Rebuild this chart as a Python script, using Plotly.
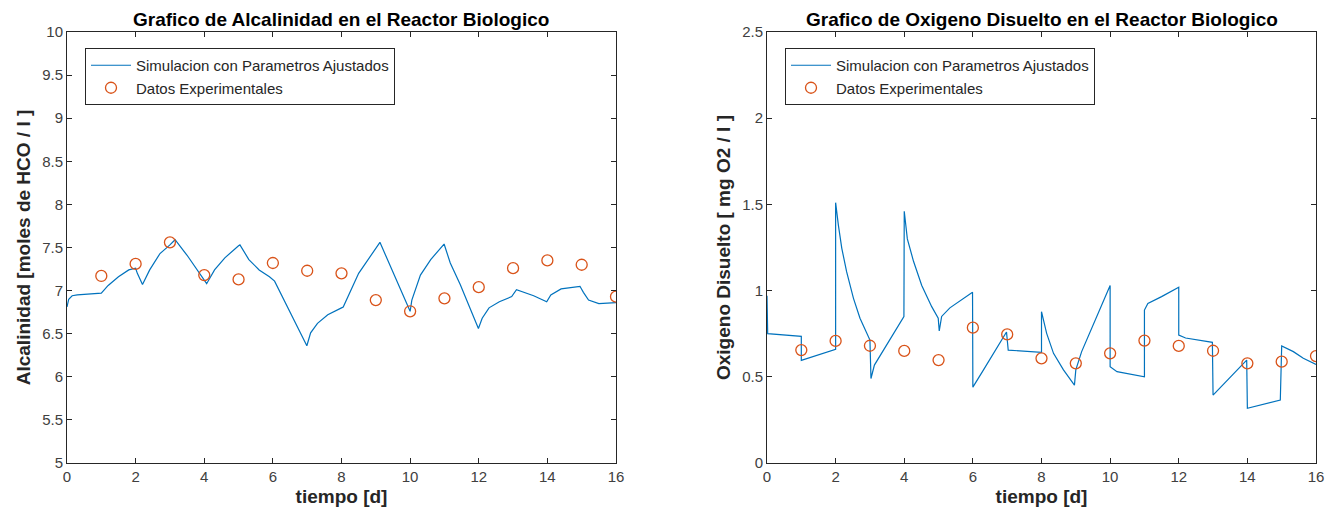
import plotly.graph_objects as go

# ---- Alkalinity (left) ----
alk_sim_t = [0, 0.05, 0.15, 0.3, 0.6, 1.0, 1.2, 1.5, 1.8, 2.0, 2.05, 2.2, 2.41, 2.71, 3.0, 3.15,
             3.5, 4.0, 4.07, 4.3, 4.6, 5.0, 5.04, 5.3, 5.6, 5.9, 6.05, 6.99, 7.1, 7.3, 7.6, 8.0,
             8.05, 8.5, 8.98, 9.12, 10.0, 10.05, 10.3, 10.6, 10.99, 11.17, 11.46, 11.75, 11.99,
             12.1, 12.3, 12.6, 12.96, 13.1, 13.3, 13.6, 13.98, 14.1, 14.4, 14.95, 15.05, 15.2,
             15.5, 16.0]
alk_sim_v = [6.81, 6.90, 6.94, 6.95, 6.96, 6.97, 7.06, 7.16, 7.24, 7.26, 7.20, 7.07, 7.24, 7.43,
             7.53, 7.59, 7.41, 7.12, 7.08, 7.24, 7.38, 7.52, 7.53, 7.36, 7.24, 7.16, 7.11, 6.36,
             6.51, 6.62, 6.72, 6.80, 6.81, 7.20, 7.47, 7.56, 6.76, 6.89, 7.18, 7.36, 7.54, 7.32,
             7.07, 6.80, 6.56, 6.68, 6.80, 6.87, 6.93, 7.01, 6.98, 6.94, 6.87, 6.95, 7.02, 7.05,
             6.98, 6.89, 6.85, 6.86]
alk_exp_t = list(range(1, 17))
alk_exp_v = [7.17, 7.31, 7.56, 7.18, 7.13, 7.32, 7.23, 7.20, 6.89, 6.76, 6.91, 7.04, 7.26, 7.35,
             7.30, 6.93]

# ---- Dissolved oxygen (right) ----
o2_sim_t = [0, 0.0, 0.02, 1.0, 1.0, 2.0, 2.0, 2.08, 2.18, 2.32, 2.52, 2.71, 3.0, 3.03, 3.13,
            3.99, 4.0, 4.09, 4.27, 4.51, 4.80, 4.99, 5.02, 5.09, 5.33, 5.99, 6.0, 6.31, 6.60,
            6.98, 7.03, 8.0, 8.0, 8.15, 8.35, 8.64, 8.96, 9.0, 9.17, 10.0, 10.0, 10.2, 11.0, 11.0,
            11.1, 11.5, 12.0, 12.0, 12.2, 12.98, 13.0, 13.98, 14.0, 14.96, 15.0, 15.34, 15.63,
            16.0]
o2_sim_v = [0.97, 0.90, 0.75, 0.735, 0.595, 0.66, 1.51, 1.38, 1.245, 1.11, 0.955, 0.84, 0.713,
            0.49, 0.568, 0.849, 1.46, 1.30, 1.17, 1.03, 0.907, 0.84, 0.766, 0.85, 0.90, 0.99,
            0.44, 0.54, 0.636, 0.76, 0.655, 0.642, 0.878, 0.752, 0.636, 0.54, 0.452, 0.54, 0.646,
            1.03, 0.559, 0.53, 0.50, 0.887, 0.926, 0.965, 1.02, 0.742, 0.725, 0.70, 0.394, 0.597,
            0.317, 0.365, 0.679, 0.646, 0.607, 0.572]
o2_exp_t = list(range(1, 17))
o2_exp_v = [0.655, 0.708, 0.68, 0.65, 0.597, 0.785, 0.746, 0.607, 0.578, 0.636, 0.71, 0.679,
            0.651, 0.578, 0.588, 0.62]

x_ticks = [0, 2, 4, 6, 8, 10, 12, 14, 16]
alk_ticks = [5, 5.5, 6, 6.5, 7, 7.5, 8, 8.5, 9, 9.5, 10]
o2_ticks = [0, 0.5, 1, 1.5, 2, 2.5]

sim_name = "Simulacion con Parametros Ajustados"
exp_name = "Datos Experimentales"
BLUE = "#0072BD"
ORANGE = "#D95319"
AX = "#262626"
FONT = "Liberation Sans, Arial, sans-serif"

fig = go.Figure()
fig.add_trace(go.Scatter(x=alk_sim_t, y=alk_sim_v, mode="lines", name=sim_name,
                         line=dict(color=BLUE, width=1.2), xaxis="x", yaxis="y", legend="legend"))
fig.add_trace(go.Scatter(x=alk_exp_t, y=alk_exp_v, mode="markers", name=exp_name,
                         marker=dict(symbol="circle-open", size=11, color=ORANGE, line=dict(width=1.3)),
                         xaxis="x", yaxis="y", legend="legend"))
fig.add_trace(go.Scatter(x=o2_sim_t, y=o2_sim_v, mode="lines", name=sim_name,
                         line=dict(color=BLUE, width=1.2), xaxis="x2", yaxis="y2", legend="legend2"))
fig.add_trace(go.Scatter(x=o2_exp_t, y=o2_exp_v, mode="markers", name=exp_name,
                         marker=dict(symbol="circle-open", size=11, color=ORANGE, line=dict(width=1.3)),
                         xaxis="x2", yaxis="y2", legend="legend2"))

W, H = 1336, 520
OFF = 8  # page body margin
def px_x(p): return (p - OFF) / W
def px_y(p): return 1 - (p - OFF) / H

common_x = dict(range=[0, 16], tickvals=x_ticks, ticks="inside", ticklen=5, tickcolor=AX,
                showline=True, linecolor=AX, linewidth=1, mirror="ticks", showgrid=False,
                zeroline=False, automargin=False,
                tickfont=dict(size=15, color="#404040", family=FONT),
                title=dict(text="<b>tiempo [d]</b>", font=dict(size=19, color=AX, family=FONT),
                           standoff=5))
common_y = dict(ticks="inside", ticklen=5, tickcolor=AX, showline=True, linecolor=AX, linewidth=1,
                mirror="ticks", showgrid=False, zeroline=False, automargin=False,
                tickfont=dict(size=15, color="#404040", family=FONT))

legend_common = dict(bgcolor="white", bordercolor=AX, borderwidth=1, xanchor="left", yanchor="top",
                     font=dict(size=15, color=AX, family=FONT), tracegroupgap=0,
                     itemwidth=40)

fig.update_layout(
    width=W, height=H, margin=dict(l=0, r=0, t=0, b=0),
    paper_bgcolor="white", plot_bgcolor="white",
    font=dict(family=FONT),
    xaxis=dict(domain=[px_x(67), px_x(616)], anchor="y", **common_x),
    yaxis=dict(domain=[px_y(463), px_y(32)], anchor="x", range=[5, 10], tickvals=alk_ticks,
               ticktext=[f"{v:g}" for v in alk_ticks],
               title=dict(text="<b>Alcalinidad [moles de HCO / l ]</b>",
                          font=dict(size=19, color=AX, family=FONT), standoff=6),
               **common_y),
    xaxis2=dict(domain=[px_x(767), px_x(1316)], anchor="y2", **common_x),
    yaxis2=dict(domain=[px_y(463), px_y(32)], anchor="x2", range=[0, 2.5], tickvals=o2_ticks,
                ticktext=[f"{v:g}" for v in o2_ticks],
                title=dict(text="<b>Oxigeno Disuelto [ mg O2 / l ]</b>",
                           font=dict(size=19, color=AX, family=FONT), standoff=6),
                **common_y),
    legend=dict(x=px_x(85), y=px_y(48), **legend_common),
    legend2=dict(x=px_x(785), y=px_y(48), **legend_common),
    annotations=[
        dict(text="<b>Grafico de Alcalinidad en el Reactor Biologico</b>", x=px_x(341), y=1.0,
             xref="paper", yref="paper", showarrow=False, xanchor="center", yanchor="top",
             borderpad=0, font=dict(size=19, color="#000000", family=FONT)),
        dict(text="<b>Grafico de Oxigeno Disuelto en el Reactor Biologico</b>", x=px_x(1042),
             y=1.0, xref="paper", yref="paper", showarrow=False, xanchor="center",
             yanchor="top", borderpad=0, font=dict(size=19, color="#000000", family=FONT)),
    ],
)

fig.write_html("out.html")
